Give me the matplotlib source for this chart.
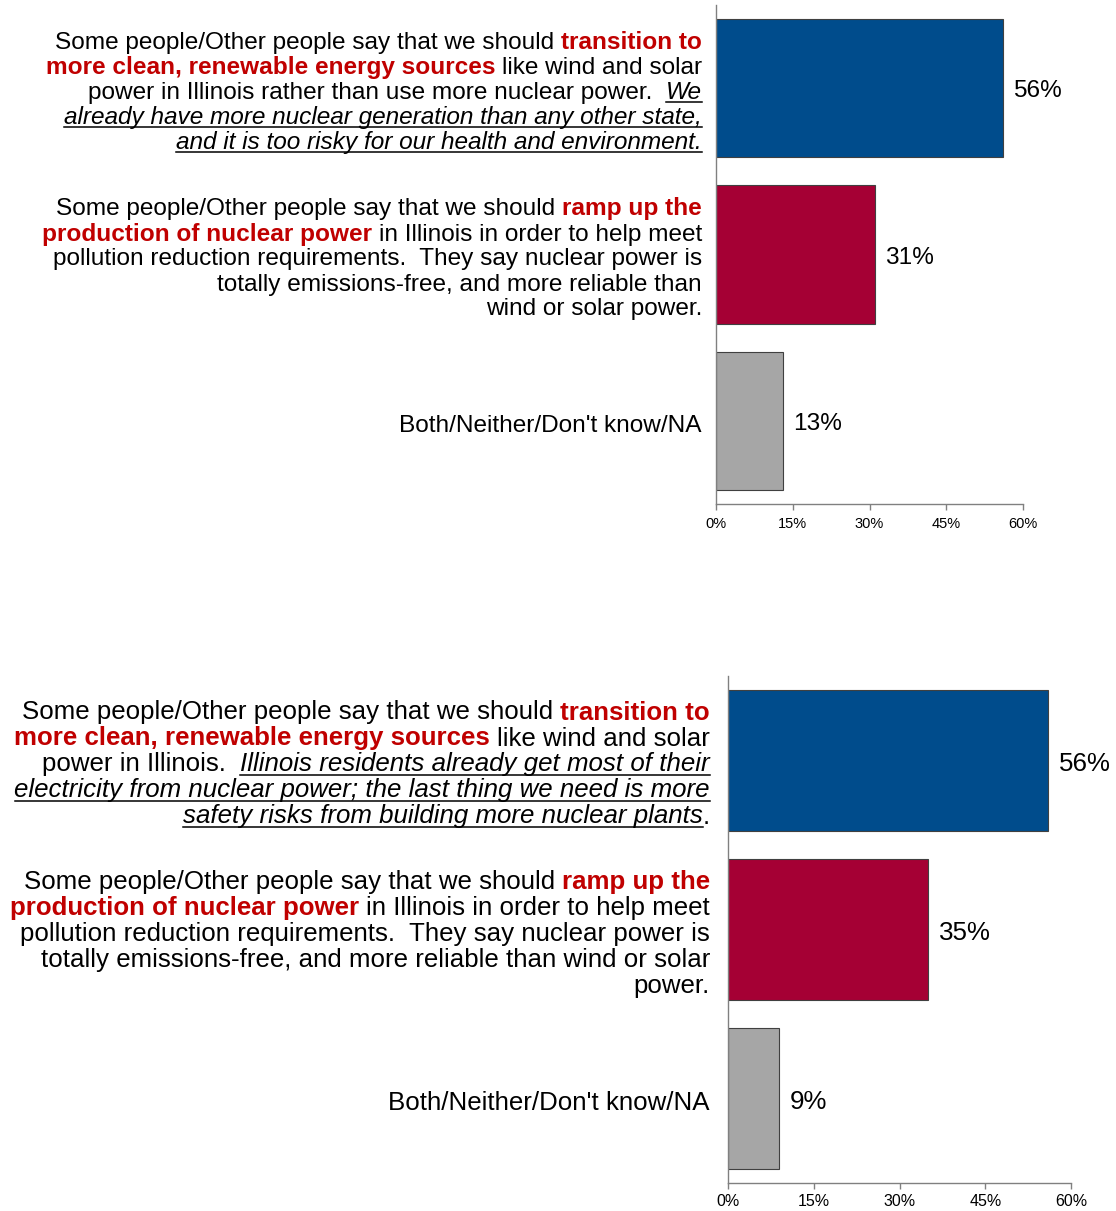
import matplotlib
matplotlib.use("Agg")
import matplotlib.pyplot as plt
from matplotlib.lines import Line2D
from matplotlib.transforms import IdentityTransform

plt.rcParams["font.family"] = ["Liberation Sans", "DejaVu Sans"]

BAR_COLORS = ["#004C8C", "#A50034", "#A6A6A6"]
TEXT_RED = "#C00000"

top_values = [56, 31, 13]
bottom_values = [56, 35, 9]
x_ticks = [0, 15, 30, 45, 60]
tick_labels = [f"{t}%" for t in x_ticks]

# each label is a list of lines, each line a list of (text, style)
# n = plain, b = bold red, u = italic underlined
top_labels = [
    [
        [("Some people/Other people say that we should", "n"), (" transition to", "b")],
        [("more clean, renewable energy sources", "b"), (" like wind and solar", "n")],
        [("power in Illinois rather than use more nuclear power.", "n"), ("  We", "u")],
        [("already have more nuclear generation than any other state,", "u")],
        [("and it is too risky for our health and environment.", "u")],
    ],
    [
        [("Some people/Other people say that we should", "n"), (" ramp up the", "b")],
        [("production of nuclear power", "b"), (" in Illinois in order to help meet", "n")],
        [("pollution reduction requirements.  They say nuclear power is", "n")],
        [("totally emissions-free, and more reliable than", "n")],
        [("wind or solar power.", "n")],
    ],
    [
        [("Both/Neither/Don't know/NA", "n")],
    ],
]

bottom_labels = [
    [
        [("Some people/Other people say that we should", "n"), (" transition to", "b")],
        [("more clean, renewable energy sources", "b"), (" like wind and solar", "n")],
        [("power in Illinois.", "n"), ("  Illinois residents already get most of their", "u")],
        [("electricity from nuclear power; the last thing we need is more", "u")],
        [("safety risks from building more nuclear plants", "u"), (".", "n")],
    ],
    [
        [("Some people/Other people say that we should", "n"), (" ramp up the", "b")],
        [("production of nuclear power", "b"), (" in Illinois in order to help meet", "n")],
        [("pollution reduction requirements.  They say nuclear power is", "n")],
        [("totally emissions-free, and more reliable than wind or solar", "n")],
        [("power.", "n")],
    ],
    [
        [("Both/Neither/Don't know/NA", "n")],
    ],
]

W, H = 1116, 1211
fig = plt.figure(figsize=(W / 100, H / 100), dpi=100)
renderer = fig.canvas.get_renderer()

STYLES = {
    "n": dict(color="black"),
    "b": dict(color=TEXT_RED, fontweight="bold"),
    "u": dict(color="black", fontstyle="italic"),
}


def space_width(size):
    a = fig.text(0, 0, "a a", fontsize=size)
    b = fig.text(0, 0, "aa", fontsize=size)
    w = a.get_window_extent(renderer).width - b.get_window_extent(renderer).width
    a.remove()
    b.remove()
    return w


def draw_line(x_right, y_base, segments, size):
    """Right-aligned line of mixed-style segments, laid out right to left."""
    sp = space_width(size)
    x = x_right
    for text, style in reversed(segments):
        body = text.lstrip(" ")
        lead = len(text) - len(body)
        t = fig.text(x, y_base, body, ha="right", va="baseline", fontsize=size,
                     transform=IdentityTransform(), **STYLES[style])
        bb = t.get_window_extent(renderer)
        if style == "u":
            fig.add_artist(Line2D([bb.x0, bb.x1], [y_base - 3, y_base - 3],
                                  transform=IdentityTransform(), color="black", lw=1.1))
        x = bb.x0 - lead * sp


def draw_chart(rect, values, labels, size, spacing, gap, tick_size, tick_pad):
    ax = fig.add_axes(rect)
    ys = list(range(len(values)))
    ax.barh(ys, values, height=0.83, color=BAR_COLORS, edgecolor="#404040", lw=0.8)
    ax.set_xlim(0, 60)
    ax.set_ylim(2.5, -0.5)
    ax.set_xticks(x_ticks)
    ax.set_xticklabels(tick_labels)
    ax.set_yticks([])
    ax.tick_params(axis="x", labelsize=tick_size, length=4, width=1,
                   color="#808080", pad=tick_pad)
    for side in ["top", "right"]:
        ax.spines[side].set_visible(False)
    for side in ["left", "bottom"]:
        ax.spines[side].set_color("#808080")
        ax.spines[side].set_linewidth(1)

    for y, v in zip(ys, values):
        ax.annotate(f"{v}%", (v, y), xytext=(7.5, -2.3), textcoords="offset points",
                    va="center", ha="left", fontsize=size)

    for y, lines in zip(ys, labels):
        x0, yc = ax.transData.transform((0, y))
        n = len(lines)
        for k, line in enumerate(lines):
            yb = yc - 11 - (k - (n - 1) / 2) * spacing
            draw_line(x0 - gap, yb, line, size)
    return ax


draw_chart([716 / W, 1 - 504 / H, (1023 - 716) / W, 499 / H],
           top_values, top_labels, size=17.6, spacing=25, gap=14,
           tick_size=10.5, tick_pad=5)
draw_chart([728 / W, 1 - 1183 / H, (1071 - 728) / W, 507 / H],
           bottom_values, bottom_labels, size=18.6, spacing=26, gap=18,
           tick_size=11.5, tick_pad=4)

fig.savefig("out.png", dpi=100)
